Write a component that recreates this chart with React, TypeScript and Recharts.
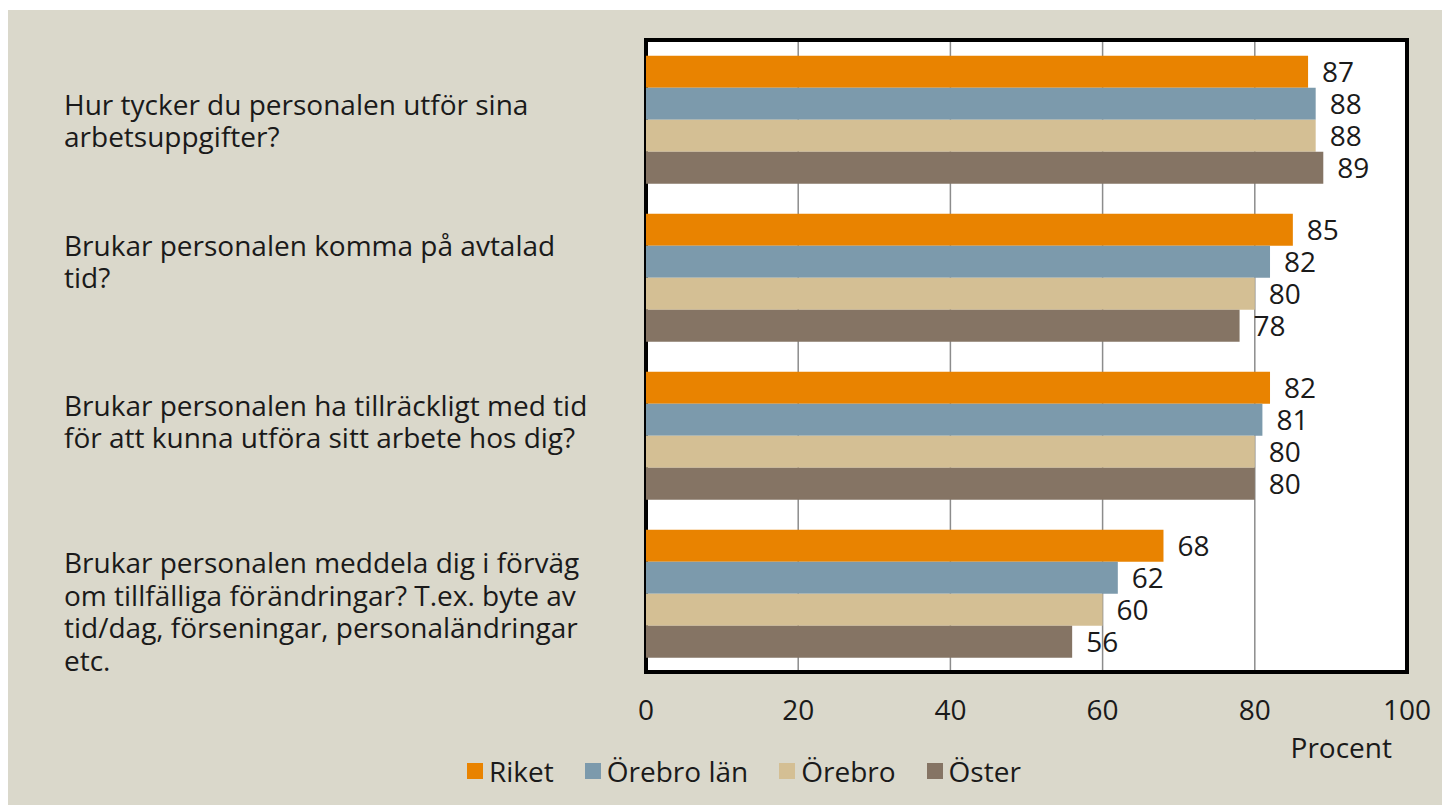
import { BarChart, Bar, XAxis, YAxis, CartesianGrid, Legend, LabelList, ReferenceArea } from 'recharts';

const questions = [
    'Hur tycker du personalen utför sina\narbetsuppgifter?',
    'Brukar personalen komma på avtalad\ntid?',
    'Brukar personalen ha tillräckligt med tid\nför att kunna utföra sitt arbete hos dig?',
    'Brukar personalen meddela dig i förväg\nom tillfälliga förändringar? T.ex. byte av\ntid/dag, förseningar, personaländringar\netc.',
];

const riket = [87, 85, 82, 68];
const orebroLan = [88, 82, 81, 62];
const orebro = [88, 80, 80, 60];
const oster = [89, 78, 80, 56];

const xTicks = [0, 20, 40, 60, 80, 100];

const series = [
    { key: 'riket', name: 'Riket', color: '#E98300' },
    { key: 'orebroLan', name: 'Örebro län', color: '#7C9AAC' },
    { key: 'orebro', name: 'Örebro', color: '#D4BF94' },
    { key: 'oster', name: 'Öster', color: '#857464' },
];

const data = questions.map((q, i) => ({
    q,
    riket: riket[i],
    orebroLan: orebroLan[i],
    orebro: orebro[i],
    oster: oster[i],
}));

const FONT = '"Open Sans", sans-serif';
const FS = 28;
const TEXT = '#1a1a1a';

// excel places the wrapped labels a bit off the band centre
const labelShift = [1, -16, -14, 18];

const QuestionTick = (props: any) => {
    const { y, payload, index } = props;
    const lines: string[] = String(payload.value).split('\n');
    const lineH = 32.5;
    const cy = y + (labelShift[index] || 0);
    return (
        <g>
            {lines.map((line, i) => (
                <text
                    key={i}
                    x={57}
                    y={cy + (i - (lines.length - 1) / 2) * lineH}
                    dominantBaseline="central"
                    textAnchor="start"
                    fontSize={FS}
                    fontFamily={FONT}
                    fill={TEXT}
                >
                    {line}
                </text>
            ))}
        </g>
    );
};

const LegendContent = () => (
    <div style={{ display: 'flex', alignItems: 'center', fontFamily: FONT, fontSize: FS, lineHeight: '28px', color: TEXT, whiteSpace: 'nowrap' }}>
        {series.map((s) => (
            <div key={s.key} style={{ display: 'flex', alignItems: 'center', marginRight: 31 }}>
                <span style={{ width: 16, height: 16, background: s.color, marginRight: 6, display: 'inline-block' }} />
                <span>{s.name}</span>
            </div>
        ))}
    </div>
);

const App = () => {
    return (
        <div style={{ width: 1443, height: 795, marginLeft: -1, marginTop: 2, background: '#DAD8CB', position: 'relative' }}>
            <BarChart
                width={1443}
                height={795}
                data={data}
                layout="vertical"
                margin={{ top: 30, right: 43, bottom: 0, left: 0 }}
                barCategoryGap="10%"
                barGap={0}
            >
                <CartesianGrid horizontal={false} stroke="#8c8c8c" strokeWidth={1.5} fill="#ffffff" />
                <XAxis
                    type="number"
                    domain={[0, 100]}
                    ticks={xTicks}
                    axisLine={false}
                    tickLine={false}
                    tickMargin={22}
                    height={133}
                    tick={{ fontSize: FS, fontFamily: FONT, fill: TEXT }}
                    label={{
                        content: (p: any) => {
                            const vb = p.viewBox;
                            return (
                                <text
                                    x={vb.x + vb.width - 15}
                                    y={vb.y + 86}
                                    textAnchor="end"
                                    fontSize={FS}
                                    fontFamily={FONT}
                                    fill={TEXT}
                                >
                                    Procent
                                </text>
                            );
                        },
                    }}
                />
                <YAxis
                    type="category"
                    dataKey="q"
                    width={639}
                    axisLine={false}
                    tickLine={false}
                    tick={<QuestionTick />}
                    interval={0}
                />
                {series.map((s) => (
                    <Bar key={s.key} dataKey={s.key} name={s.name} fill={s.color} isAnimationActive={false}>
                        <LabelList
                            dataKey={s.key}
                            position="right"
                            offset={14}
                            style={{ fontSize: FS, fontFamily: FONT, fill: TEXT }}
                        />
                    </Bar>
                ))}
                <ReferenceArea x1={0} x2={100} fill="none" stroke="#000" strokeWidth={4} ifOverflow="visible" />
                <Legend
                    layout="horizontal"
                    verticalAlign="middle"
                    align="center"
                    content={<LegendContent />}
                    wrapperStyle={{ left: 460, top: 747, width: 'auto' }}
                />
            </BarChart>
        </div>
    );
};

export default App;
